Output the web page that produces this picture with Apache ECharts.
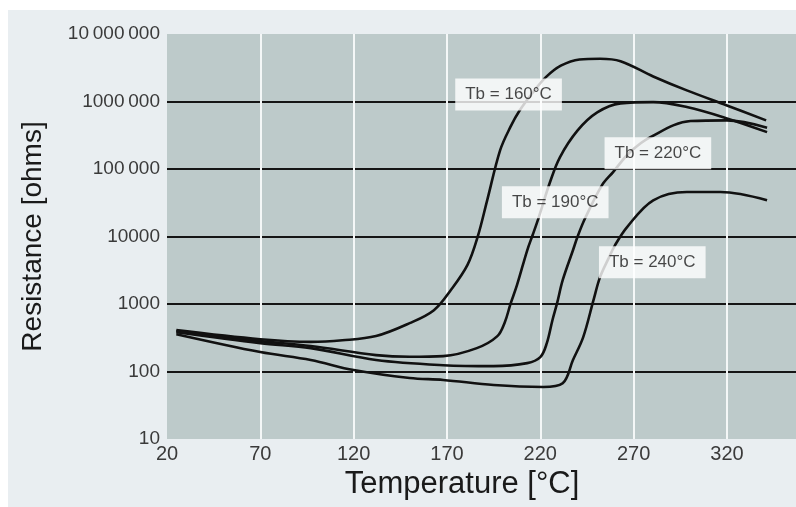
<!DOCTYPE html>
<html>
<head>
<meta charset="utf-8">
<script src="https://cdn.jsdelivr.net/npm/echarts@6/dist/echarts.min.js"></script>
<style>
html,body{margin:0;padding:0;background:#ffffff;}
#chart{position:absolute;left:8px;top:10px;width:788px;height:497px;background:#e9eef1;}
</style>
</head>
<body>
<div id="chart"></div>
<script>
// Tb = 160 °C
const tb160T = [25,70,97,114,132,150,163,172,181,186.5,191.5,198.5,204,209,216,223,231,241,252,263,280.5,298.5,320,341];
const tb160R = [410,300,275,290,335,520,810,1600,3800,10000,34000,190000,420000,740000,1360000,2300000,3400000,4200000,4300000,3950000,2350000,1460000,875000,525000];
// Tb = 190 °C
const tb190T = [25,70,97,132,150,168,186,197,201,204,207.5,213,216,219,225,230.5,240,250.5,263,280.5,298.5,320,341.5];
const tb190R = [396,282,238,175,165,169,222,334,538,993,1900,6250,10700,18600,61400,149000,373000,689000,937000,980000,826000,562000,352000];
// Tb = 220 °C
const tb220T = [25,70,97,132,168,195,213,220,223.5,226.5,229,232,237.5,240,244,253,259,268,279,300.5,320,341.5];
const tb220R = [383,263,222,148,124,120,133,163,263,575,1030,2250,6250,10000,18600,57300,90100,177000,297000,513000,525000,410000];
// Tb = 240 °C
const tb240T = [25,70,97,120,150,168,195,221.5,232,237.5,243,248.5,252,256.5,260,266.5,280.5,298.5,316.5,341.5];
const tb240R = [357,194,148,105,80,75,63,59,67,148,323,1140,2500,4700,7400,13800,34400,45600,45600,34400];

// curve labels and their anchor values (temperature, resistance)
const curveLabels = ['Tb = 160°C', 'Tb = 220°C', 'Tb = 190°C', 'Tb = 240°C'];
const labelT = [203, 283, 228, 280];
const labelR = [1270000, 171000, 32100, 4160];

// axis tick labels
const yTickValues = [10, 100, 1000, 10000, 100000, 1000000, 10000000];
const yTickLabels = ['10', '100', '1000', '10000', '100\u2009000', '1000\u2009000', '10\u2009000\u2009000'];
const xTicks = [20, 70, 120, 170, 220, 270, 320];

function pairs(t, r) { return t.map((v, i) => [v, r[i]]); }

const lineStyle = { color: '#111', width: 2.6 };
function curve(name, t, r) {
  return {
    name: name, type: 'line', data: pairs(t, r), showSymbol: false, symbol: 'none',
    smooth: 0.35, lineStyle: lineStyle, z: 3, silent: true
  };
}

const chart = echarts.init(document.getElementById('chart'), null, { renderer: 'canvas' });
chart.setOption({
  animation: false,
  backgroundColor: 'transparent',
  textStyle: { fontFamily: 'Liberation Sans, Arial, sans-serif' },
  grid: {
    left: 159, top: 24, right: 0, bottom: 68,
    show: true, backgroundColor: '#bdcaca', borderWidth: 0
  },
  xAxis: {
    type: 'value', min: 20, max: 357, interval: 50,
    name: 'Temperature [°C]', nameLocation: 'middle', nameGap: 28,
    nameTextStyle: { fontSize: 31, color: '#1a1a1a', padding: [0, 39, 0, 0] },
    axisLine: { show: false }, axisTick: { show: false },
    axisLabel: {
      fontSize: 20, color: '#3a3a3a', margin: 5, showMaxLabel: false,
      formatter: v => (xTicks.indexOf(v) >= 0 ? String(v) : '')
    },
    splitLine: { show: true, showMinLine: false, showMaxLine: false, lineStyle: { color: '#f4f7f7', width: 2 } }
  },
  yAxis: {
    type: 'log', logBase: 10, min: 10, max: 10000000,
    name: 'Resistance [ohms]', nameLocation: 'middle', nameGap: 120,
    nameTextStyle: { fontSize: 28, color: '#1a1a1a' },
    axisLine: { show: false }, axisTick: { show: false },
    axisLabel: {
      fontSize: 19, color: '#3a3a3a', margin: 7,
      formatter: v => { const i = yTickValues.indexOf(Math.round(v)); return i >= 0 ? yTickLabels[i] : ''; }
    },
    splitLine: { show: true, showMinLine: false, showMaxLine: false, lineStyle: { color: '#151515', width: 2 } }
  },
  series: [
    curve('Tb = 160°C', tb160T, tb160R),
    curve('Tb = 190°C', tb190T, tb190R),
    curve('Tb = 220°C', tb220T, tb220R),
    curve('Tb = 240°C', tb240T, tb240R),
    {
      type: 'scatter', z: 10, silent: true,
      symbolSize: 1, itemStyle: { color: 'rgba(0,0,0,0)' },
      data: curveLabels.map((n, i) => ({ name: n, value: [labelT[i], labelR[i]] })),
      label: {
        show: true, position: 'inside', formatter: p => p.name,
        fontSize: 17, color: '#1a1a1a', backgroundColor: '#ffffff',
        padding: [8, 10, 7, 10]
      }
    }
  ]
});
</script>
</body>
</html>
